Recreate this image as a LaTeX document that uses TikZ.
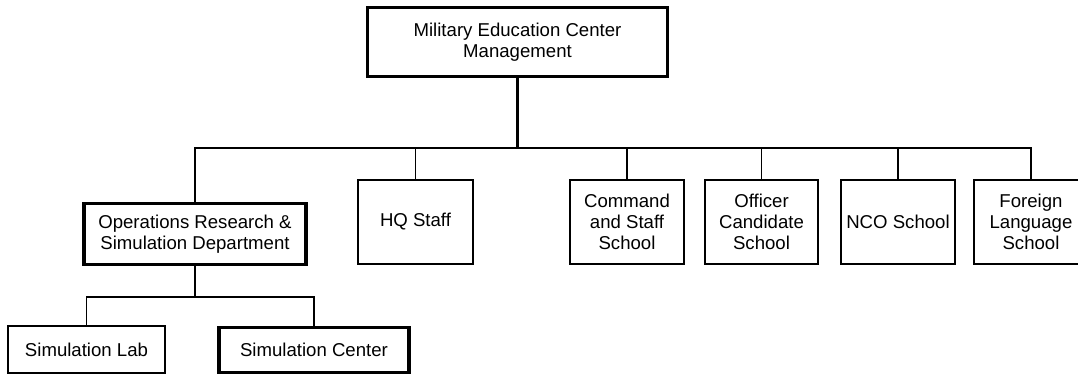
\documentclass[tikz,border=0pt]{standalone}
\usepackage{fontspec}
\setmainfont{Liberation Sans}
\begin{document}
\begin{tikzpicture}[x=0.5pt,y=-0.5pt,
  box/.style={draw, line width=0.6pt, inner sep=0pt, align=center,
    font=\fontsize{9.3}{10.5}\selectfont},
  keybox/.style={box, line width=1.6pt},
  link/.style={line width=0.6pt},
  keylink/.style={line width=1.1pt}]
  \clip (0,0) rectangle (1078,374);
  \fill[white] (0,0) rectangle (1078,374);

  % management and departments
  \node[keybox, minimum width=150pt, minimum height=34.5pt] (top) at (517.5,42)
    {Military Education Center\\Management};
  \node[keybox, minimum width=111pt, minimum height=30.5pt] (orsd) at (195,234)
    {Operations Research \&\\Simulation Department};
  \node[box, minimum width=57.5pt, minimum height=42pt] (hq) at (415.5,222) {HQ Staff};
  \node[box, minimum width=57pt, minimum height=42pt] (css) at (627,222)
    {Command\\and Staff\\School};
  \node[box, minimum width=56.5pt, minimum height=42pt] (ocs) at (761.5,222)
    {Officer\\Candidate\\School};
  \node[box, minimum width=57pt, minimum height=42pt] (nco) at (898,222) {NCO School};
  \node[box, minimum width=57pt, minimum height=42pt] (fls) at (1031,222)
    {Foreign\\Language\\School};

  % units of the department
  \node[box, minimum width=78.5pt, minimum height=23.5pt] (lab) at (86.5,349.5)
    {Simulation Lab};
  \node[keybox, minimum width=95pt, minimum height=22.5pt] (center) at (314,350)
    {Simulation Center};

  % junction points of the bus lines
  \path (top.south) ++(0,70) coordinate (bus);
  \path (orsd.south) ++(0,31) coordinate (sub);

  \draw[keylink] (top.south) -- (bus) -| (orsd.north);
  \draw[link] (bus) -| (fls.north);
  \draw[link] (hq.north) -- (hq.north |- bus);
  \draw[link] (css.north) -- (css.north |- bus);
  \draw[link] (ocs.north) -- (ocs.north |- bus);
  \draw[link] (nco.north) -- (nco.north |- bus);

  \draw[keylink] (orsd.south) -- (sub) -| (center.north);
  \draw[link] (sub) -| (lab.north);
\end{tikzpicture}
\end{document}
